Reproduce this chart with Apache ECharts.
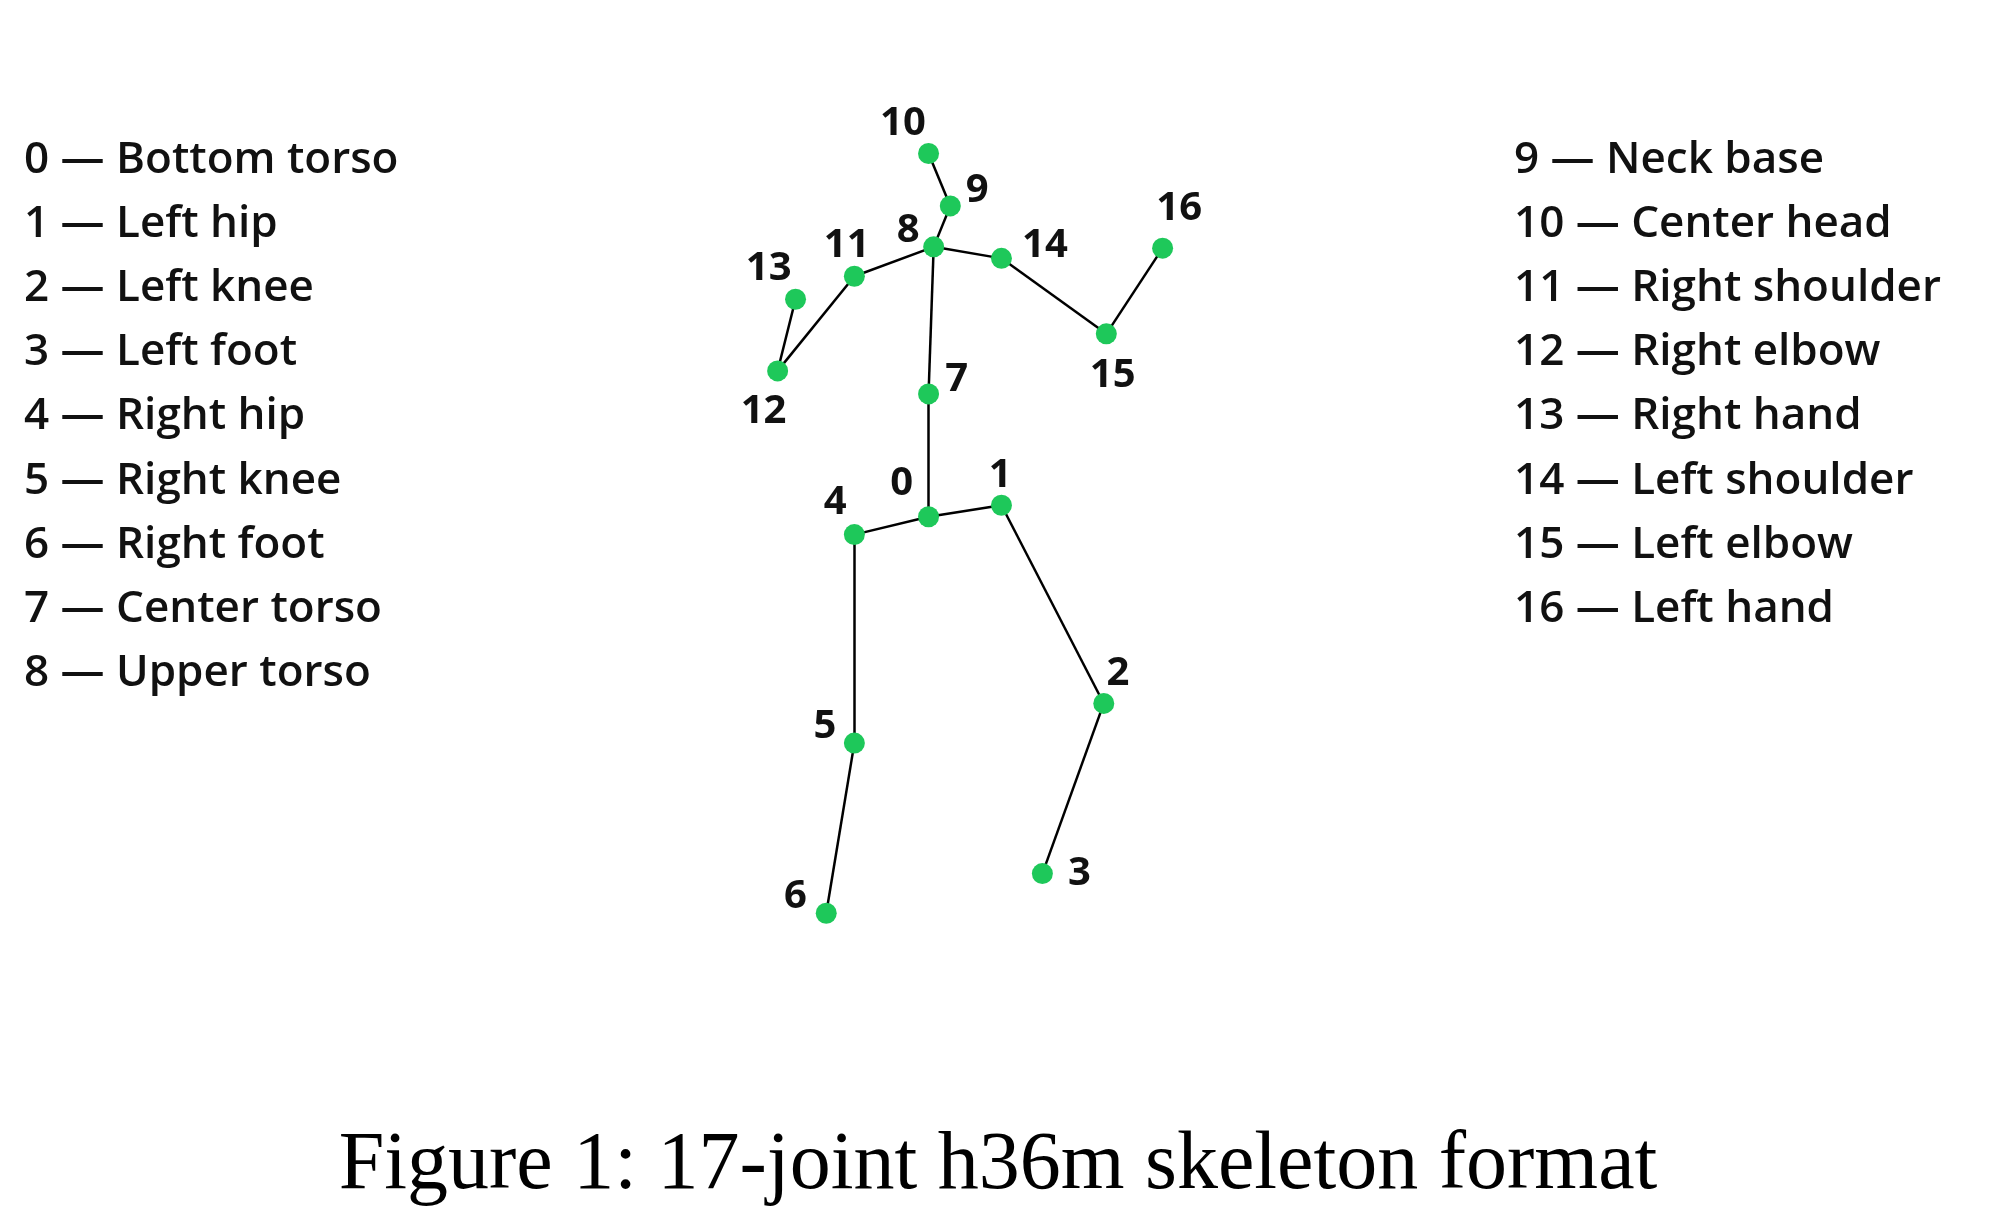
<!DOCTYPE html>
<html><head><meta charset="utf-8">
<script src="https://cdn.jsdelivr.net/npm/echarts@6/dist/echarts.min.js"></script>
<style>html,body{margin:0;padding:0;background:#fff}#c{width:1996px;height:1215px}</style>
</head><body><div id="c"></div>
<script>
const S = 1.279;
const jointX = [726,783,863,815,668,668,646,726,730,743,726,668,608,622,783,865,909];
const jointY = [404,395,550,683,418,581,714,308,193,161,120,216,290,234,202,261,194];
const bones = [[0,1],[1,2],[2,3],[0,4],[4,5],[5,6],[0,7],[7,8],[8,9],[9,10],[8,11],[11,12],[12,13],[8,14],[14,15],[15,16]];
const leftLegend = ['0 — Bottom torso','1 — Left hip','2 — Left knee','3 — Left foot','4 — Right hip','5 — Right knee','6 — Right foot','7 — Center torso','8 — Upper torso'];
const rightLegend = ['9 — Neck base','10 — Center head','11 — Right shoulder','12 — Right elbow','13 — Right hand','14 — Left shoulder','15 — Left elbow','16 — Left hand'];
const caption = 'Figure 1: 17-joint h36m skeleton format';
// label offsets (style)
const labOff = [[-21,-26],[-1,-23],[11,-23],[29,0],[-15,-25],[-23,-13],[-24,-13],[22,-11],[-20,-13],[21,-12],[-20,-23],[-6,-24],[-11,32],[-21,-24],[34,-10],[5,33],[13,-31]];

const nodes = jointX.map((x,i)=>({
  name:String(i), value:[x*S, jointY[i]*S],
  label:{show:true, position:'inside', offset:[labOff[i][0]*S, labOff[i][1]*S], formatter:String(i),
    fontFamily:'Open Sans', fontWeight:'bold', fontSize:40, color:'#111'}
}));
const links = bones.map(b=>({source:String(b[0]), target:String(b[1])}));
const graphic = [];
leftLegend.forEach((t,i)=>graphic.push({type:'text', left:24, top:138+i*64.2, style:{text:t, font:'600 44px "Open Sans"', fill:'#111'}}));
rightLegend.forEach((t,i)=>graphic.push({type:'text', left:1514, top:138+i*64.2, style:{text:t, font:'600 44px "Open Sans"', fill:'#111'}}));
graphic.push({type:'text', left:'center', top:1125, style:{text:caption, font:'82px "Liberation Serif"', fill:'#000'}});

const chart = echarts.init(document.getElementById('c'));
chart.setOption({
  animation:false,
  grid:{left:0,right:0,top:0,bottom:0},
  xAxis:{type:'value',min:0,max:1996,show:false},
  yAxis:{type:'value',min:0,max:1215,inverse:true,show:false},
  graphic,
  series:[{
    type:'graph', coordinateSystem:'cartesian2d', data:nodes, links,
    symbolSize:21, itemStyle:{color:'#1ec85a'},
    lineStyle:{color:'#000', width:2.5, opacity:1}
  }]
});
</script></body></html>
